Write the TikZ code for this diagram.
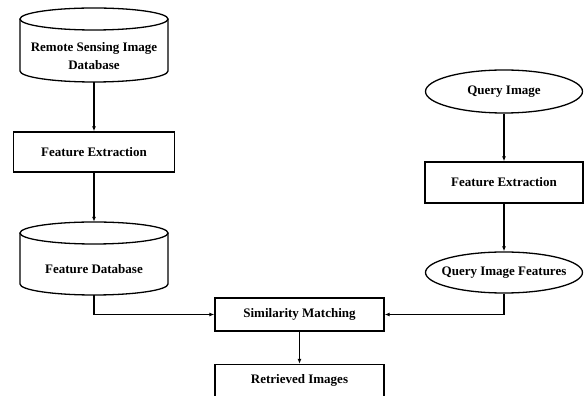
\documentclass[tikz,border=0pt]{standalone}
\usepackage{fontspec}
\setmainfont{Liberation Serif}
\usetikzlibrary{arrows.meta,shapes.geometric}
\begin{document}
\begin{tikzpicture}[x=1pt,y=1pt,
  txt/.style={font=\fontsize{13}{15.5}\selectfont\bfseries, align=center, inner sep=0pt},
  line/.style={line width=1.3pt},
  box/.style={line, draw, rectangle, inner sep=0pt},
  oval/.style={line, draw, ellipse, inner sep=0pt},
  hold/.style={rectangle, inner sep=0pt},
  arr/.style={line, -{Latex[length=5pt,width=4pt]}}]
\useasboundingbox (0,0) rectangle (584,396);

% Remote Sensing Image Database (cylinder)
\node[hold, minimum width=148pt, minimum height=74pt] (rsdb) at (94,351) {};
\draw[line] (20,377) -- (20,325) arc[start angle=180,end angle=360,x radius=74,y radius=11] -- (168,377);
\draw[line] (94,377) ellipse[x radius=74,y radius=11];
\node[txt] (rsdbt) at (94,340) {Remote Sensing Image\\[2pt]Database};

% Feature Extraction (left)
\node[box, minimum width=161pt, minimum height=40pt] (fe1) at (94,244) {};
\node[txt] (fe1t) at (fe1) {Feature Extraction};

% Feature Database (cylinder)
\node[hold, minimum width=148pt, minimum height=73pt] (fdb) at (94,137.5) {};
\draw[line] (20,163) -- (20,112) arc[start angle=180,end angle=360,x radius=74,y radius=11] -- (168,163);
\draw[line] (94,163) ellipse[x radius=74,y radius=11];
\node[txt] (fdbt) at (94,127) {Feature Database};

% Similarity Matching
\node[box, minimum width=169pt, minimum height=33pt] (sim) at (299.5,81.5) {};
\node[txt] (simt) at (sim) {Similarity Matching};

% Retrieved Images
\node[box, minimum width=169pt, minimum height=33pt] (ret) at (299.5,15) {};
\node[txt] (rett) at (299.5,16) {Retrieved Images};

% Query Image
\node[oval, minimum width=157pt, minimum height=43pt] (qi) at (504,304.5) {};
\node[txt] (qit) at (qi) {Query Image};

% Feature Extraction (right)
\node[box, minimum width=158pt, minimum height=41pt] (fe2) at (504,213.5) {};
\node[txt] (fe2t) at (fe2) {Feature Extraction};

% Query Image Features
\node[oval, minimum width=157pt, minimum height=41pt] (qif) at (504,123.5) {};
\node[txt] (qift) at (qif) {Query Image Features};

% connectors
\draw[arr] (rsdb.south) -- (fe1.north);
\draw[arr] (fe1.south) -- (fdb.north);
\draw[arr] (fdb.south) |- (sim.west);
\draw[arr] (sim.south) -- (ret.north);
\draw[arr] (qi.south) -- (fe2.north);
\draw[arr] (fe2.south) -- (qif.north);
\draw[arr] (qif.south) |- (sim.east);
\end{tikzpicture}
\end{document}
